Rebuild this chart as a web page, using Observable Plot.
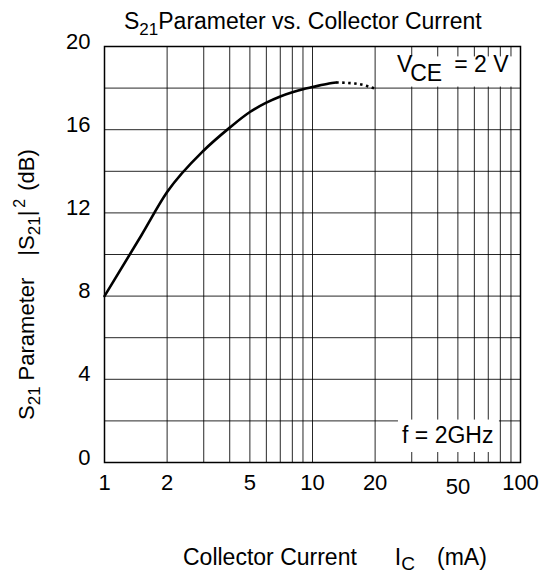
<!DOCTYPE html>
<html><head><meta charset="utf-8">
<script src="https://cdn.jsdelivr.net/npm/d3@7"></script>
<script src="https://cdn.jsdelivr.net/npm/@observablehq/plot@0.6"></script>
<style>
html,body{margin:0;padding:0;background:#fff;}
#chart svg{display:block;}
</style></head><body><div id="chart"></div>
<script>
// ---- data ----
const xGrid = [1,2,3,4,5,6,7,8,9,10,20,30,40,50,60,70,80,90,100];
const yGrid = [0,2,4,6,8,10,12,14,16,18,20];
const xTicks = [1,2,5,10,20,50,100];
const yTicks = [0,4,8,12,16,20];
const currentSolid = [1,1.5,2,3,4,5,6,7,8,9,10,12,13];
const gainSolid    = [8,10.9,13,15,16.1,16.85,17.3,17.6,17.8,17.95,18.05,18.22,18.27];
const currentDotted = [13,16,18,20];
const gainDotted    = [18.27,18.22,18.12,17.97];

const solid = currentSolid.map((c,i)=>({current:c, gain:gainSolid[i]}));
const dotted = currentDotted.map((c,i)=>({current:c, gain:gainDotted[i]}));

// annotation boxes (data space)
const boxes = [
  {x1:20.6, x2:100, y1:18.05, y2:19.5},
  {x1:25.9, x2:79.2, y1:0.48, y2:2.04}
];

const FONT = '"Liberation Sans", Arial, Helvetica, sans-serif';

const plot = Plot.plot({
  width:541, height:578,
  marginLeft:104, marginRight:21, marginTop:46, marginBottom:116,
  style:{fontFamily:FONT, fontSize:"22px", color:"#000", background:"#fff", overflow:"visible"},
  x:{type:"log", domain:[1,100], axis:null},
  y:{domain:[0,20], axis:null},
  marks:[
    Plot.ruleX(xGrid,{stroke:"#000", strokeWidth:1, strokeOpacity:0.85}),
    Plot.ruleY(yGrid,{stroke:"#000", strokeWidth:1, strokeOpacity:0.85}),
    Plot.rect(boxes,{x1:"x1", x2:"x2", y1:"y1", y2:"y2", fill:"#fff"}),
    Plot.frame({stroke:"#000", strokeWidth:1.5}),
    Plot.line(solid,{x:"current", y:"gain", curve:"monotone-x", stroke:"#000", strokeWidth:2.6}),
    Plot.line(dotted,{x:"current", y:"gain", curve:"monotone-x", stroke:"#000", strokeWidth:2.6, strokeDasharray:"2.5,3.5", strokeLinecap:"butt"}),
    Plot.text(xTicks.filter(d=>d!==50),{x:d=>d, text:d=>String(d), frameAnchor:"bottom", lineAnchor:"top", dy:12, fontSize:22, fill:"#000"}),
    Plot.text([50],{x:d=>d, text:d=>String(d), frameAnchor:"bottom", lineAnchor:"top", dy:16, fontSize:22, fill:"#000"}),
    Plot.text(yTicks,{y:d=>d, text:d=>String(d), frameAnchor:"left", textAnchor:"end", dx:-14, dy:-5, fontSize:22, fill:"#000"})
  ]
});
document.getElementById("chart").appendChild(plot);

const svg = d3.select(plot);
const sx = plot.scale("x"), sy = plot.scale("y");

function richText(x, y, parts, size, anchor, rotate){
  const t = svg.append("text")
    .attr("transform", `translate(${x},${y})${rotate?` rotate(${rotate})`:""}`)
    .attr("text-anchor", anchor)
    .attr("font-family", FONT)
    .attr("font-size", size)
    .attr("fill", "#000");
  let shift = 0;
  parts.forEach(p=>{
    const s = t.append("tspan").text(p.t);
    const target = p.shift || 0;
    if (target !== shift) s.attr("dy", target - shift);
    shift = target;
    if (p.size) s.attr("font-size", p.size);
    if (p.dx) s.attr("dx", p.dx);
  });
  return t;
}

// title
richText(124, 29, [
  {t:"S"}, {t:"21", size:17, shift:6}, {t:"Parameter vs. Collector Current", shift:0}
], 23, "start");

// y label
richText(34, 420, [
  {t:"S"}, {t:"21", size:17, shift:6}, {t:"Parameter", shift:0, dx:6},
  {t:"|S", dx:22}, {t:"21", size:17, shift:6}, {t:"|", shift:0},
  {t:"2", size:16, shift:-9, dx:3}, {t:"(dB)", shift:0, dx:8}
], 22, "start", -90);

// x label
richText(183, 565, [
  {t:"Collector Current"}, {t:"I", dx:38}, {t:"C", size:19, shift:5}, {t:"(mA)", shift:0, dx:22}
], 23, "start");

// annotations
richText(sx.apply(25.6), sy.apply(18.75), [
  {t:"V"}, {t:"CE", shift:9, dx:-2}, {t:"= 2 V", shift:0, dx:12}
], 23, "start");
richText(sx.apply(27.1), sy.apply(0.913), [{t:"f = 2GHz"}], 23, "start");
</script></body></html>
